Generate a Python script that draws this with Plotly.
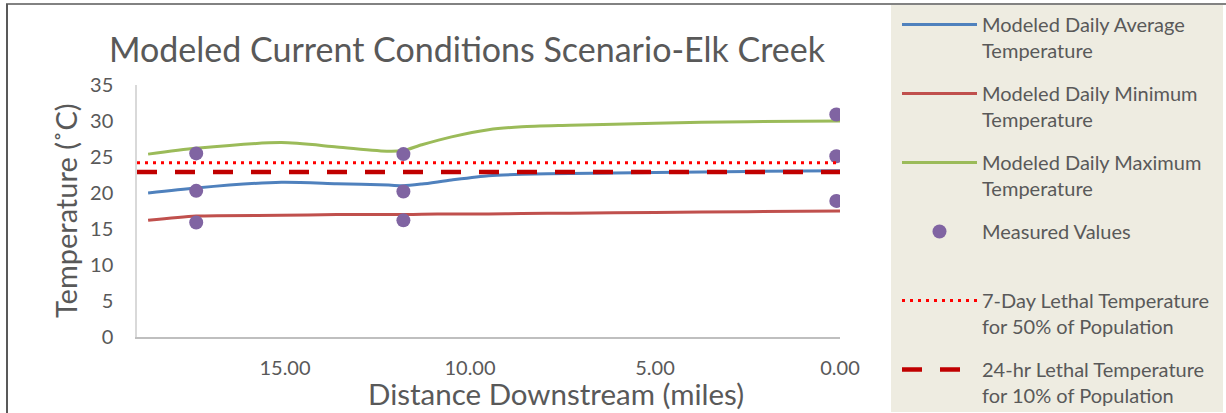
import plotly.graph_objects as go

# ---- data ----
model_miles = [18.7, 17.4, 15.1, 13.6, 12.2, 11.8, 11.3, 10.5, 9.5, 8.6, 7.3, 5.0, 2.5, 0.0]
model_max = [25.4, 26.2, 27.0, 26.4, 25.8, 25.9, 26.7, 27.8, 28.8, 29.2, 29.4, 29.7, 29.9, 30.0]
model_avg = [20.0, 20.7, 21.5, 21.3, 21.1, 21.0, 21.25, 21.8, 22.4, 22.6, 22.7, 22.85, 23.0, 23.1]
model_min = [16.2, 16.8, 16.9, 17.0, 17.0, 17.0, 17.05, 17.1, 17.1, 17.15, 17.2, 17.3, 17.4, 17.5]

meas_miles = [17.4, 17.4, 17.4, 11.8, 11.8, 11.8, 0.1, 0.1, 0.1]
meas_vals = [25.5, 20.3, 15.9, 25.4, 20.2, 16.2, 30.9, 25.1, 18.9]

lethal_miles = [19.0, 0.0]
lethal_7day = [24.2, 24.2]
lethal_24hr = [22.9, 22.9]

x_ticks = [15, 10, 5, 0]
x_tick_labels = ["15.00", "10.00", "5.00", "0.00"]
y_ticks = [0, 5, 10, 15, 20, 25, 30, 35]

names = [
    "Modeled Daily Average<br>Temperature",
    "Modeled Daily Minimum<br>Temperature",
    "Modeled Daily Maximum<br>Temperature",
    "Measured Values<br> ",
    "7-Day Lethal Temperature<br>for 50% of Population",
    "24-hr Lethal Temperature<br>for 10% of Population",
]

TXT = "#595959"
FONT = "Lato"

fig = go.Figure()
for i, (vals, col) in enumerate([(model_avg, "#4F81BD"), (model_min, "#C0504D"), (model_max, "#9BBB59")]):
    fig.add_trace(go.Scatter(x=model_miles, y=vals, mode="lines", name=names[i],
                             line=dict(color=col, width=3, shape="spline", smoothing=0.7),
                             legendgroup=f"g{i}"))
fig.add_trace(go.Scatter(x=meas_miles, y=meas_vals, mode="markers", name=names[3],
                         marker=dict(color="#8064A2", size=14), legendgroup="g3"))
fig.add_trace(go.Scatter(x=lethal_miles, y=lethal_7day, mode="lines", name=names[4],
                         line=dict(color="#FF0000", width=3, dash="3px,5px"), legendgroup="g4"))
fig.add_trace(go.Scatter(x=lethal_miles, y=lethal_24hr, mode="lines", name=names[5],
                         line=dict(color="#C00000", width=4.5, dash="20px,18px"), legendgroup="g5"))

W, H = 1226, 413
L, R, T, B = 137, 840, 85, 337
PW, PH = R - L, B - T

def px(x):
    return (x - L) / PW

def py(y):
    return (B - y) / PH

fig.update_layout(
    width=W, height=H,
    margin=dict(l=L, r=W - R, t=T, b=H - B, autoexpand=False),
    paper_bgcolor="white", plot_bgcolor="white",
    font=dict(family=FONT, color=TXT),
    title=dict(text="Modeled Current Conditions Scenario-Elk Creek",
               font=dict(size=34, color=TXT, family=FONT),
               x=467 / W, xanchor="center", y=1 - 50 / H, yanchor="middle"),
    showlegend=True,
    legend=dict(x=px(897), xanchor="left", y=py(5), yanchor="top",
                bgcolor="rgba(0,0,0,0)", font=dict(size=20, color=TXT, family=FONT),
                traceorder="grouped", tracegroupgap=14, valign="top", itemwidth=75,
                maxheight=2000),
    xaxis=dict(range=[19, 0], tickvals=x_ticks, ticktext=x_tick_labels,
               showgrid=False, zeroline=False, showline=True, linecolor="#BFBFBF", linewidth=1.5,
               ticks="", ticklabelstandoff=12, tickfont=dict(size=20, color=TXT)),
    yaxis=dict(range=[0, 35], tickvals=y_ticks, showgrid=False, zeroline=False,
               showline=True, linecolor="#D9D9D9", linewidth=1.5,
               ticks="", ticklabelstandoff=18, tickfont=dict(size=20, color=TXT)),
    annotations=[
        dict(text="Distance Downstream (miles)", xref="paper", yref="paper",
             x=px(556), y=py(393), xanchor="center", yanchor="middle",
             showarrow=False, font=dict(size=29.5, color=TXT, family=FONT)),
        dict(text="Temperature (˚C)", xref="paper", yref="paper", textangle=-90,
             x=px(65), y=py(211), xanchor="center", yanchor="middle",
             showarrow=False, font=dict(size=29, color=TXT, family=FONT)),
    ],
    shapes=[
        dict(type="rect", xref="paper", yref="paper", layer="below",
             x0=px(891), x1=px(1223), y0=py(412), y1=py(5),
             fillcolor="#EEECE1", line=dict(width=0)),
        dict(type="line", xref="paper", yref="paper",
             x0=px(6), x1=px(W), y0=py(4), y1=py(4),
             line=dict(color="#595959", width=1.5)),
        dict(type="line", xref="paper", yref="paper",
             x0=px(7), x1=px(7), y0=py(4), y1=py(H + 2),
             line=dict(color="#595959", width=2)),
    ],
)

fig.write_html("out.html", config={"displayModeBar": False},
               post_script="document.body.style.margin='0';document.body.style.overflow='hidden';")
